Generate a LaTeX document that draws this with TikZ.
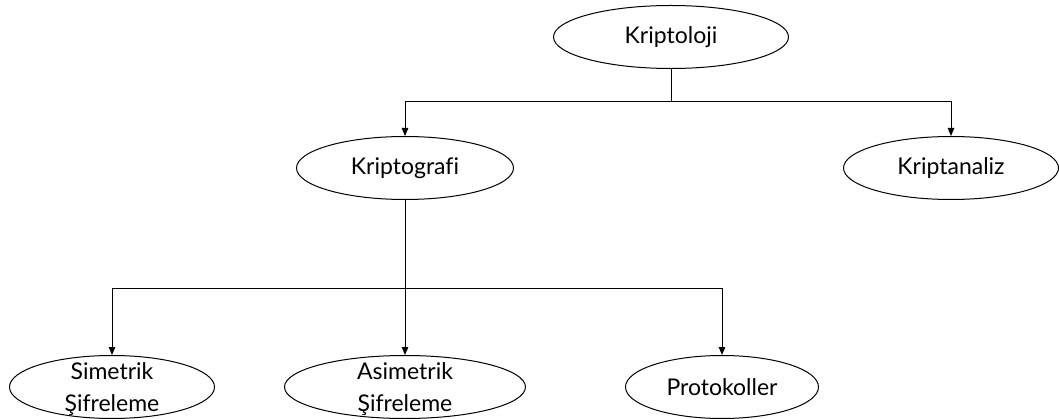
\documentclass[tikz,border=0pt]{standalone}
\usepackage{fontspec}
\setmainfont[Ligatures={NoCommon}]{Lato}
\usetikzlibrary{shapes.geometric,arrows.meta}
\tikzset{
  kutu/.style={draw, ellipse, line width=1pt, inner sep=0pt, minimum height=63pt,
    font=\fontsize{23}{32}\selectfont},
  yazi/.style={align=center, inner sep=0pt, font=\fontsize{23}{32}\selectfont},
  ok/.style={line width=1pt, -{Triangle[length=8pt,width=6.5pt]}}
}
\begin{document}
\begin{tikzpicture}[x=1pt,y=-1pt]%
     \useasboundingbox (0,0) rectangle (1059,419);
     \node[kutu, minimum width=235pt] at (671,37) (kl) {Kriptoloji};
     \node[kutu, minimum width=217pt] at (405,168) (kg) {Kriptografi};
     \node[kutu, minimum width=215pt] at (951,168) (ka) {Kriptanaliz};

     \node[kutu, minimum width=205pt] at (112,387) (sim) {};
     \node[yazi] at (112,389) (simy) {Simetrik\\Şifreleme};
     \node[kutu, minimum width=241pt] at (405,387) (asim) {};
     \node[yazi] at (405,389) (asimy) {Asimetrik\\Şifreleme};
     \node[kutu, minimum width=193pt] at (722,387) (pro) {Protokoller};

      % ust dallar
      \coordinate (ust) at (671,102);
      \draw [line width=1pt] (kl.south) -- (ust);
      \draw [ok] (ust) -| (kg.north);
      \draw [ok] (ust) -| (ka.north);

      % alt dallar
      \coordinate (alt) at (405,289);
      \draw [ok] (kg.south) -- (asim.north);
      \draw [ok] (alt) -| (sim.north);
      \draw [ok] (alt) -| (pro.north);
\end{tikzpicture}
\end{document}
